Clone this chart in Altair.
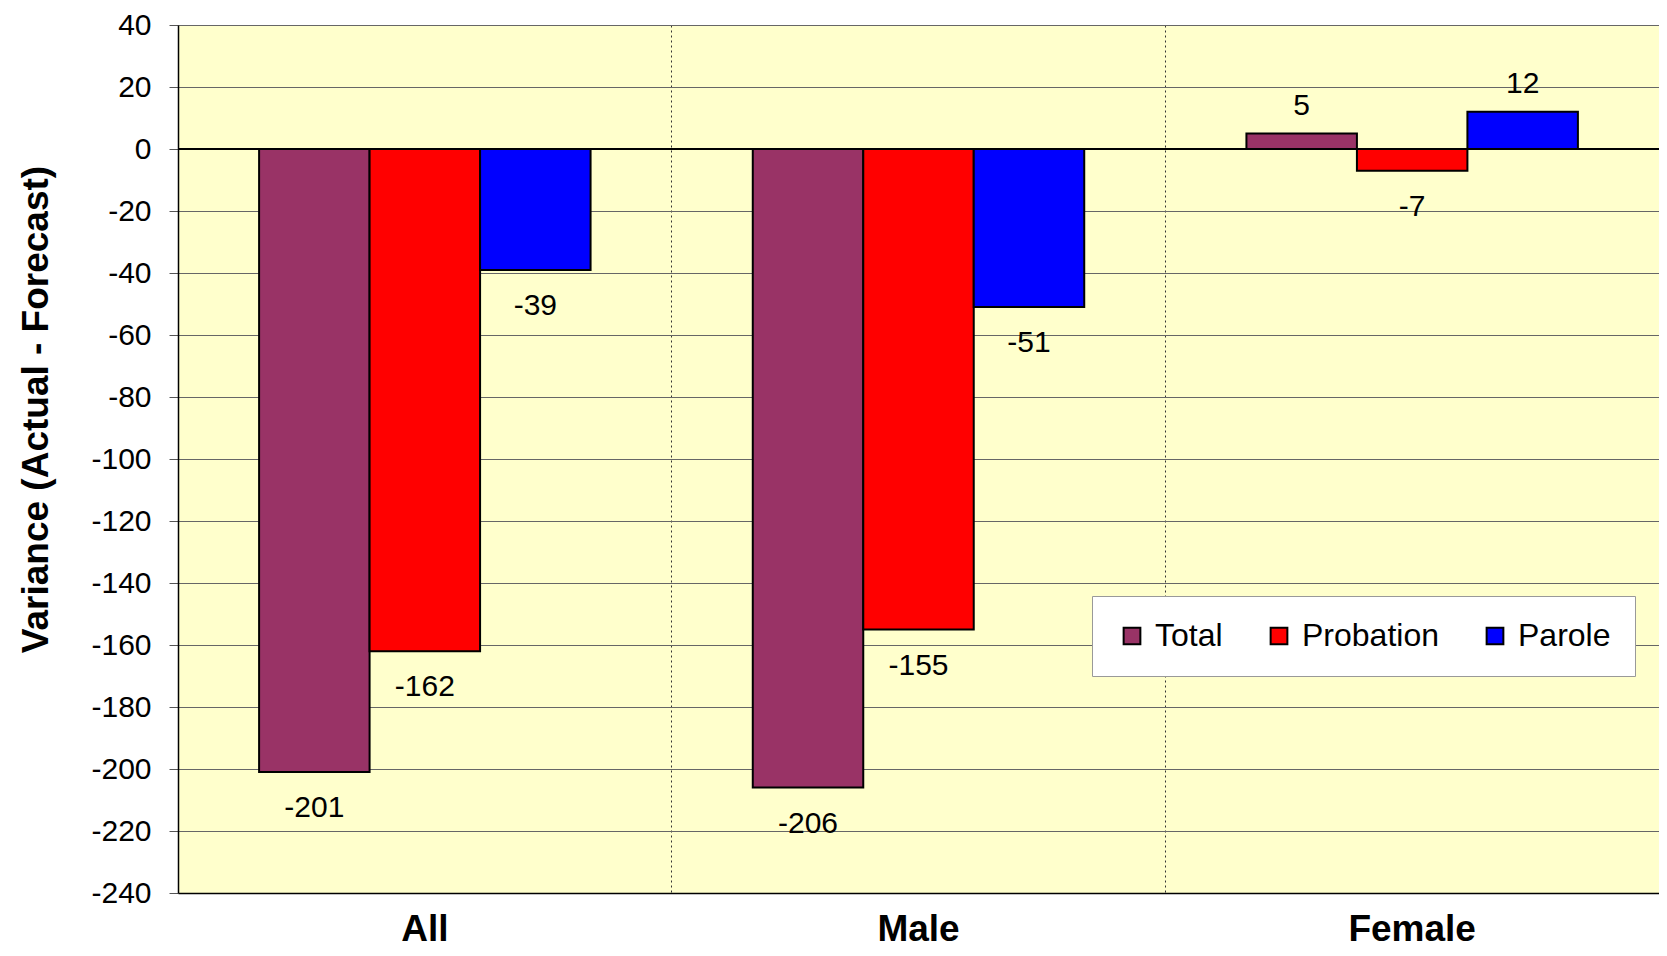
import altair as alt
import pandas as pd

groups = ["All", "Male", "Female"]
series = ["Total", "Probation", "Parole"]
total = [-201, -206, 5]
probation = [-162, -155, -7]
parole = [-39, -51, 12]
colors = ["#993366", "#FF0000", "#0000FF"]
y_ticks = list(range(-240, 41, 20))

rows = []
for s, vals in zip(series, [total, probation, parole]):
    for g, v in zip(groups, vals):
        rows.append({"Group": g, "Series": s, "Value": v})
df = pd.DataFrame(rows)

FONT = "Liberation Sans"
W, H = 1481, 868

x_enc = alt.X(
    "Group:N",
    sort=groups,
    scale=alt.Scale(paddingInner=0, paddingOuter=0),
    axis=alt.Axis(
        title=None,
        labelFont=FONT,
        labelFontSize=37,
        labelFontWeight="bold",
        labelColor="black",
        labelPadding=18,
        labelAngle=0,
        ticks=False,
        domain=True,
        domainColor="black",
        domainWidth=1.5,
        grid=True,
        gridColor="#333333",
        gridDash=[2, 3],
        gridWidth=1,
        bandPosition=0,
    ),
)
xoff_enc = alt.XOffset(
    "Series:N", sort=series, scale=alt.Scale(paddingInner=0, paddingOuter=0.734)
)
y_enc = alt.Y(
    "Value:Q",
    scale=alt.Scale(domain=[-240, 40], nice=False, zero=False),
    axis=alt.Axis(
        title="Variance (Actual - Forecast)",
        titleFont=FONT,
        titleFontSize=37,
        titleFontWeight="bold",
        titleColor="black",
        titlePadding=35,
        titleY=384,
        values=y_ticks,
        labelExpr="replace(datum.label, '\u2212', '-')",
        labelFont=FONT,
        labelFontSize=30,
        labelColor="black",
        labelPadding=18,
        tickSize=9,
        tickColor="#555555",
        domain=True,
        domainColor="black",
        domainWidth=1.5,
        grid=True,
        gridColor="#666666",
        gridWidth=1,
    ),
)
color_enc = alt.Color(
    "Series:N",
    sort=series,
    scale=alt.Scale(domain=series, range=colors),
    legend=alt.Legend(
        title=None,
        orient="none",
        direction="horizontal",
        legendX=914,
        legendY=571,
        fillColor="white",
        strokeColor="#999999",
        padding=24,
        symbolType="square",
        symbolSize=280,
        symbolStrokeColor="black",
        symbolStrokeWidth=2,
        symbolOpacity=1,
        labelFont=FONT,
        labelFontSize=32,
        labelColor="black",
        labelOffset=7,
        columnPadding=40,
    ),
)

base = alt.Chart(df).transform_calculate(lbl="toString(datum.Value)")

zero_rule = base.mark_rule(color="black", strokeWidth=1.5).encode(y=alt.datum(0))

bars = base.mark_bar(stroke="black", strokeWidth=2, opacity=1).encode(
    x=x_enc, xOffset=xoff_enc, y=y_enc, color=color_enc
)

neg_labels = (
    base.transform_filter("datum.Value < 0")
    .mark_text(font=FONT, fontSize=30, color="black", baseline="middle", dy=36)
    .encode(x=x_enc, xOffset=xoff_enc, y=y_enc, text="lbl:N")
)
pos_labels = (
    base.transform_filter("datum.Value >= 0")
    .mark_text(font=FONT, fontSize=30, color="black", baseline="middle", dy=-28)
    .encode(x=x_enc, xOffset=xoff_enc, y=y_enc, text="lbl:N")
)

chart = (
    alt.layer(zero_rule, bars, neg_labels, pos_labels)
    .properties(
        width=W,
        height=H,
        autosize=alt.AutoSizeParams(type="none"),
        padding={"left": 170, "top": 17, "right": 0, "bottom": 55},
        background="white",
    )
    .configure_view(fill="#FFFFCC", strokeWidth=0)
)

chart.save("out.html", embed_options={"renderer": "svg", "actions": False})
